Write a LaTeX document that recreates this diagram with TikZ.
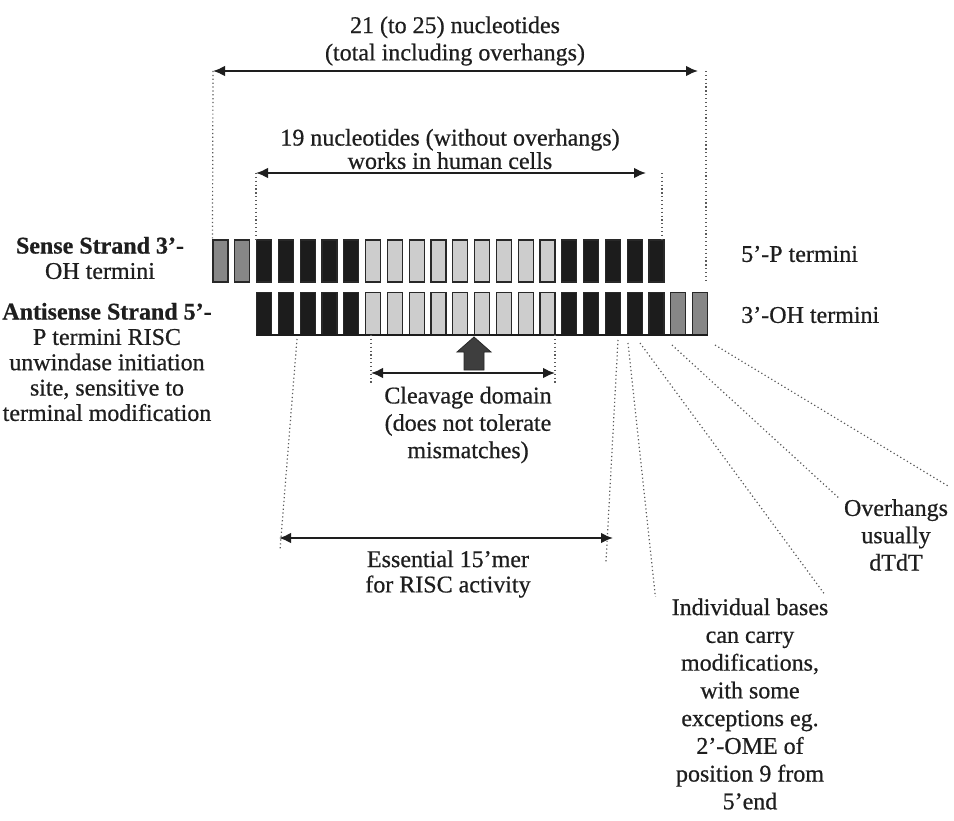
\documentclass[tikz,border=0pt]{standalone}
\usepackage{fontspec}
\setmainfont{Liberation Serif}[FakeBold=0.6]
\usetikzlibrary{arrows.meta, calc}
\definecolor{ntdark}{RGB}{28,28,28}
\definecolor{ntlight}{RGB}{205,205,205}
\definecolor{ntgray}{RGB}{135,135,135}
\definecolor{ntedge}{RGB}{40,40,40}
\definecolor{inkgray}{RGB}{30,30,30}
\definecolor{guidegray}{RGB}{90,90,90}
\tikzset{
  nt/.style={
    draw=ntedge,
    line width=0.8pt,
    minimum width=11.25pt,
    minimum height=31.5pt,
    inner sep=0pt
  },
  txt/.style={align=center, text=inkgray, inner sep=0pt, font=\fontsize{18}{20.5}\selectfont},
  tighttxt/.style={txt, font=\fontsize{18}{19}\selectfont},
  dimarrow/.style={{Latex[length=9pt,width=8pt]}-{Latex[length=9pt,width=8pt]}, line width=1.5pt, draw=inkgray},
  guide/.style={dotted, line width=0.9pt, draw=guidegray},
  cutarrow/.style={fill=ntdark!85!white, draw=ntedge, line width=0.6pt}
}

\begin{document}
\begin{tikzpicture}[x=0.75pt, y=-0.75pt]
  \fill[white] (0,0) rectangle (954,821);
  \useasboundingbox (0,0) rectangle (954,821);

  % sense (top) and antisense (bottom) strands
  \foreach \i in {0,...,22}{
    \ifnum\i<2 \def\ntfill{ntgray}\else
    \ifnum\i<7 \def\ntfill{ntdark}\else
    \ifnum\i<16 \def\ntfill{ntlight}\else
    \ifnum\i<21 \def\ntfill{ntdark}\else
    \def\ntfill{ntgray}\fi\fi\fi\fi
    \ifnum\i<21 \node[nt, fill=\ntfill] (s\i) at ({220.5+21.8*\i}, 261) {};\fi
    \ifnum\i>1 \node[nt, fill=\ntfill] (a\i) at ({220.5+21.8*\i}, 313.5) {};\fi
  }
  \draw[line width=1.5pt, draw=ntdark] (a2.south west) -- (a22.south east);

  % labels
  \node[txt] (total) at (455,41) {21 (to 25) nucleotides\\(total including overhangs)};
  \node[txt, font=\fontsize{18}{17.5}\selectfont] (paired) at (450,149) {19 nucleotides (without overhangs)\\works in human cells};
  \node[tighttxt] (sense) at (100,258) {\textbf{Sense Strand 3'-}\\OH termini};
  \node[tighttxt] (antisense) at (107,362) {\textbf{Antisense Strand 5'-}\\P termini RISC\\unwindase initiation\\site, sensitive to\\terminal modification};
  \node[txt, anchor=west] (senseend) at (741,254) {5'-P termini};
  \node[txt, anchor=west] (antiend) at (741,315) {3'-OH termini};
  \node[txt] (cleavage) at (468,425) {Cleavage domain\\(does not tolerate\\mismatches)};
  \node[tighttxt] (essential) at (448,574) {Essential 15'mer\\for RISC activity};
  \node[txt] (overhangs) at (896,535) {Overhangs\\usually\\dTdT};
  \node[txt, font=\fontsize{18}{20.8}\selectfont] (bases) at (750,704) {Individual bases\\can carry\\modifications,\\with some\\exceptions eg.\\2'-OME of\\position 9 from\\5'end};

  % length markers
  \coordinate (totL) at (213,71);
  \coordinate (totR) at (706,71);
  \coordinate (pairL) at (256,173);
  \coordinate (pairR) at (662,173);
  \coordinate (cleavL) at (371,373);
  \coordinate (cleavR) at (555,373);
  \coordinate (essL) at (279,538);
  \coordinate (essR) at (613,538);
  \coordinate (essLtop) at (297,339);
  \coordinate (essRtop) at (618,340);
  \coordinate (modA) at (628,343);
  \coordinate (modB) at (640,343);
  \coordinate (ovhA) at (672,345);
  \coordinate (ovhB) at (715,345);

  \draw[guide] (totL) -- (s0.north west);
  \draw[guide] (totR) -- (totR |- s20.south);
  \draw[dimarrow, shorten >=6pt] (totL) -- (totR);

  \draw[guide] (pairL) -- (pairL |- s0.north);
  \draw[guide] (pairR) -- (pairR |- s0.north);
  \draw[dimarrow, shorten >=12pt] (pairL) -- (pairR);

  \draw[guide] (cleavL |- a7.south) -- ($(cleavL)+(0,11)$);
  \draw[guide] (cleavR |- a7.south) -- ($(cleavR)+(0,11)$);
  \draw[dimarrow] (cleavL) -- (cleavR);
  \draw[cutarrow] (464,370) -- (464,352) -- (457,352) -- (474,337) -- (491,352) -- (484,352) -- (484,370) -- cycle;

  \draw[guide] (essLtop) -- (280,550);
  \draw[guide] (essRtop) -- (606,562);
  \draw[dimarrow] (essL) -- (essR);

  \draw[guide] (modA) -- ([xshift=-12pt, yshift=1pt]bases.north west);
  \draw[guide] (modB) -- ([xshift=-3pt, yshift=3pt]bases.north east);
  \draw[guide] (ovhA) -- ([xshift=-4pt, yshift=1pt]overhangs.north west);
  \draw[guide] (ovhB) -- ([xshift=1pt, yshift=9pt]overhangs.north east);
\end{tikzpicture}
\end{document}
